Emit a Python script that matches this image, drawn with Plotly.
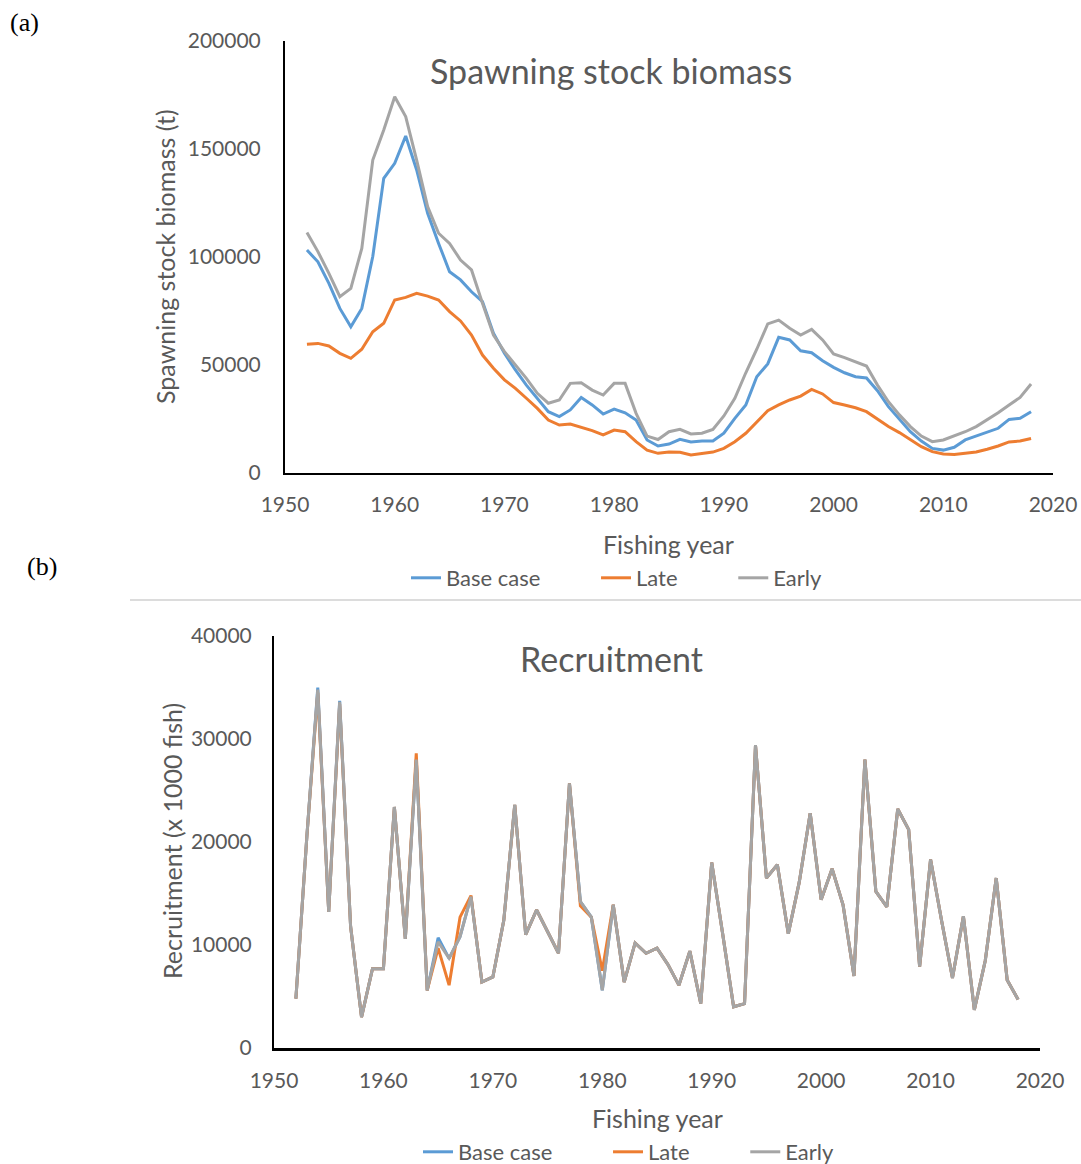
import plotly.graph_objects as go

years = list(range(1952, 2019))

ssb_base = [103200, 97800, 87800, 76200, 67700, 76200, 100200, 136400, 143400, 156000,
            140300, 120200, 106300, 93200, 89400, 83900, 79300, 64700, 55400, 47700,
            40700, 34600, 28400, 26100, 29200, 35000, 31500, 27300, 29600, 27900,
            24500, 15300, 12500, 13400, 15600, 14400, 14800, 14800, 18400, 25300,
            31500, 44600, 50500, 62800, 61600, 56600, 55700, 52000, 48900, 46400,
            44600, 44000, 38100, 30700, 24800, 19100, 14800, 11400, 10600, 11900,
            15300, 17100, 18800, 20700, 24800, 25300, 28400]
ssb_late = [59600, 60000, 58800, 55400, 53100, 57300, 65400, 69300, 80100, 81300,
            83200, 81900, 80100, 74700, 70400, 63900, 54600, 48500, 43100, 39200,
            34600, 29900, 24500, 22200, 22700, 21100, 19600, 17600, 19900, 19100,
            14500, 10600, 9100, 9700, 9600, 8300, 9100, 9700, 11400, 14500,
            18400, 23500, 28800, 31500, 33800, 35600, 38700, 36600, 32600, 31500,
            30200, 28400, 24800, 21500, 18700, 15600, 12200, 9900, 8800, 8600,
            9100, 9700, 11000, 12500, 14400, 14800, 16000]
ssb_early = [111300, 102500, 92400, 81600, 85500, 104000, 144900, 158800, 174200, 165000,
             144900, 123300, 111000, 106300, 98600, 94000, 78600, 63900, 56200, 50000,
             43800, 36900, 32300, 33800, 41500, 41800, 38400, 36100, 41500, 41500,
             27600, 17100, 15500, 19100, 20200, 18100, 18400, 20200, 26400, 34600,
             46400, 57300, 69000, 70800, 67000, 63900, 66500, 61600, 55100, 53400,
             51500, 49500, 40700, 33000, 26900, 21500, 17100, 14500, 15300, 17100,
             19100, 21500, 24500, 27900, 31500, 35000, 41200]

rec_base = [4800, 20500, 35000, 13200, 33700, 11800, 3000, 7700, 7700, 23400,
            10600, 28000, 5600, 10700, 8700, 10800, 14700, 6400, 6900, 12400,
            23600, 11000, 13400, 11300, 9200, 25700, 14200, 12700, 5600, 13900,
            6400, 10200, 9200, 9700, 8100, 6100, 9400, 4300, 18000, 11100,
            4000, 4300, 29400, 16500, 17800, 11100, 16100, 22800, 14400, 17400,
            13900, 7000, 28000, 15200, 13700, 23200, 21200, 7900, 18300, 12400,
            6800, 12800, 3700, 8500, 16500, 6600, 4700]
rec_late = [4800, 20500, 34500, 13200, 33400, 11800, 3000, 7700, 7700, 23400,
            10600, 28600, 5600, 9700, 6100, 12700, 14800, 6400, 6900, 12400,
            23600, 11000, 13400, 11300, 9200, 25700, 13800, 12700, 7500, 13900,
            6400, 10200, 9200, 9700, 8100, 6100, 9400, 4300, 18000, 11100,
            4000, 4300, 29400, 16500, 17800, 11100, 16100, 22800, 14400, 17400,
            13900, 7000, 28000, 15200, 13700, 23200, 21200, 7900, 18300, 12400,
            6800, 12800, 3700, 8500, 16500, 6600, 4700]
rec_early = [4800, 20500, 34800, 13200, 33600, 11800, 3000, 7700, 7700, 23400,
             10600, 28000, 5600, 10300, 8700, 10800, 14700, 6400, 6900, 12400,
             23600, 11000, 13400, 11300, 9200, 25700, 14200, 12700, 5600, 13900,
             6400, 10200, 9200, 9700, 8100, 6100, 9400, 4300, 18000, 11100,
             4000, 4300, 29400, 16500, 17800, 11100, 16100, 22800, 14400, 17400,
             13900, 7000, 28000, 15200, 13700, 23200, 21200, 7900, 18300, 12400,
             6800, 12800, 3700, 8500, 16500, 6600, 4700]

series_names = ["Base case", "Late", "Early"]
colors = ["#5B9BD5", "#ED7D31", "#A5A5A5"]
x_ticks = [1950, 1960, 1970, 1980, 1990, 2000, 2010, 2020]

FONT = "Lato, 'Open Sans', sans-serif"
TXT = "#595959"
W, H = 1081, 1164
PAD = "\u00a0" * 9

fig = go.Figure()

for name, col, vals in zip(series_names, colors, [ssb_base, ssb_late, ssb_early]):
    fig.add_trace(go.Scatter(x=years, y=vals, mode="lines", name=name + PAD,
                             line=dict(color=col, width=3), xaxis="x", yaxis="y",
                             legend="legend"))
for name, col, vals in zip(series_names, colors, [rec_base, rec_late, rec_early]):
    fig.add_trace(go.Scatter(x=years, y=vals, mode="lines", name=name + PAD,
                             line=dict(color=col, width=3), xaxis="x2", yaxis="y2",
                             legend="legend2"))

axis_common = dict(showgrid=False, zeroline=False, showline=True, linecolor="black",
                   ticks="", automargin=False,
                   tickfont=dict(family=FONT, size=21, color=TXT))

fig.update_layout(
    width=W, height=H,
    margin=dict(l=0, r=0, t=0, b=0, autoexpand=False),
    paper_bgcolor="white", plot_bgcolor="white",
    font=dict(family=FONT, color=TXT),
    xaxis=dict(domain=[285 / W, 1053 / W], anchor="y", range=[1950, 2020],
               tickvals=x_ticks, ticklabelstandoff=12, linewidth=2, **axis_common),
    yaxis=dict(domain=[1 - 473 / H, 1 - 41 / H], anchor="x", range=[0, 200000],
               dtick=50000, tickformat="d", ticklabelstandoff=18, linewidth=2, **axis_common),
    xaxis2=dict(domain=[274 / W, 1040 / W], anchor="y2", range=[1950, 2020],
                tickvals=x_ticks, ticklabelstandoff=12, linewidth=3, **axis_common),
    yaxis2=dict(domain=[1 - 1048 / H, 1 - 636 / H], anchor="x2", range=[0, 40000],
                dtick=10000, tickformat="d", ticklabelstandoff=16, linewidth=2, **axis_common),
    legend=dict(orientation="h", x=406 / W, y=1 - 578 / H, xanchor="left", yanchor="middle",
                font=dict(family=FONT, size=22, color=TXT), bgcolor="rgba(0,0,0,0)"),
    legend2=dict(orientation="h", x=418 / W, y=1 - 1152 / H, xanchor="left", yanchor="middle",
                 font=dict(family=FONT, size=22, color=TXT), bgcolor="rgba(0,0,0,0)"),
    showlegend=True,
)

def note(text, x, y, size, color=TXT, family=FONT, angle=0, xanchor="center"):
    fig.add_annotation(text=text, x=x / W, y=1 - y / H, xref="paper", yref="paper",
                       showarrow=False, xanchor=xanchor, yanchor="middle", textangle=angle,
                       font=dict(family=family, size=size, color=color))

note("Spawning stock biomass", 611, 70, 34)
note("Recruitment", 611, 658, 34)
note("Spawning stock biomass (t)", 165, 257, 25, angle=-90)
note("Recruitment (x 1000 fish)", 172, 841, 25, angle=-90)
note("Fishing year", 668, 544, 25)
note("Fishing year", 657, 1118, 25)
note("(a)", 8, 22, 26, color="black", family="Liberation Serif, serif", xanchor="left")
note("(b)", 25, 566, 26, color="black", family="Liberation Serif, serif", xanchor="left")

fig.add_shape(type="line", xref="paper", yref="paper", x0=130 / W, x1=1.0,
              y0=1 - 600 / H, y1=1 - 600 / H, line=dict(color="#D0D0D0", width=1.5))

fig.write_html("out.html", config={"displayModeBar": False},
               post_script="document.body.style.margin='0';document.body.style.overflow='hidden';")
